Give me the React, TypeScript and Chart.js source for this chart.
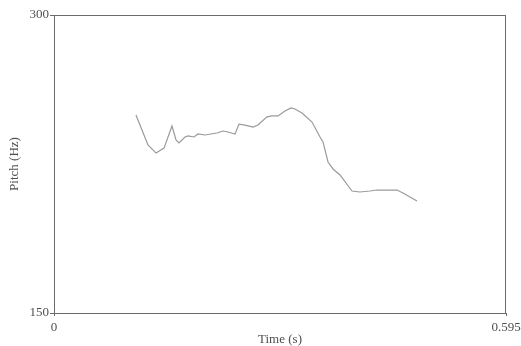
import React, { useEffect, useRef } from "react";
import { Chart, registerables } from "chart.js";

Chart.register(...registerables);

const timeS: number[] = [
  0.1079, 0.1237, 0.1343, 0.1448, 0.1553, 0.1606, 0.1645, 0.1724, 0.1764, 0.1843,
  0.1896, 0.1988, 0.2146, 0.2225, 0.229, 0.2383, 0.2435, 0.2514, 0.262, 0.2685,
  0.2804, 0.287, 0.2949, 0.3041, 0.312, 0.3172, 0.3265, 0.3396, 0.3502, 0.3541,
  0.3607, 0.3673, 0.3765, 0.3923, 0.4028, 0.416, 0.4252, 0.4383, 0.4515, 0.4594,
  0.4686, 0.4779,
];
const pitchHz: number[] = [
  249.7, 234.6, 230.5, 233.0, 244.1, 237.1, 235.6, 238.6, 239.1, 238.6,
  240.1, 239.6, 240.6, 241.6, 241.1, 240.1, 245.1, 244.6, 243.6, 244.6,
  248.7, 249.2, 249.2, 251.7, 253.2, 252.7, 250.7, 246.1, 238.6, 236.1,
  226.0, 222.5, 219.5, 211.4, 210.9, 211.4, 211.9, 211.9, 211.9, 210.4,
  208.4, 206.4,
];
const xTicks: number[] = [0, 0.595];
const yTicks: number[] = [150, 300];
const xTitle = "Time (s)";
const yTitle = "Pitch (Hz)";

const FONT = "'Liberation Serif', 'DejaVu Serif', serif";
const AXIS = "#6b6b6b";
const TEXT = "#505050";

const frame = {
  id: "frame",
  afterDatasetsDraw(chart: any) {
    const { ctx, chartArea } = chart;
    ctx.save();
    ctx.strokeStyle = AXIS;
    ctx.lineWidth = 1;
    ctx.beginPath();
    ctx.moveTo(chartArea.left, chartArea.top + 0.5);
    ctx.lineTo(chartArea.right, chartArea.top + 0.5);
    ctx.moveTo(chartArea.right - 0.5, chartArea.top);
    ctx.lineTo(chartArea.right - 0.5, chartArea.bottom);
    ctx.stroke();
    ctx.restore();
  },
};

export default function App() {
  const ref = useRef<HTMLCanvasElement | null>(null);
  useEffect(() => {
    document.body.style.margin = "0";
    const chart = new Chart(ref.current as HTMLCanvasElement, {
      type: "line",
      data: {
        datasets: [
          {
            data: timeS.map((t, i) => ({ x: t, y: pitchHz[i] })),
            borderColor: "#9a9a9a",
            borderWidth: 1.2,
            pointRadius: 0,
            tension: 0,
            fill: false,
          },
        ],
      },
      options: {
        responsive: false,
        animation: false,
        layout: { padding: { top: 15, right: 15, left: 0, bottom: 0 } },
        plugins: { legend: { display: false }, tooltip: { enabled: false } },
        scales: {
          x: {
            type: "linear",
            min: 0,
            max: 0.595,
            afterBuildTicks: (s: any) => {
              s.ticks = xTicks.map((v) => ({ value: v }));
            },
            afterFit: (s: any) => {
              s.height = 33;
              s.paddingLeft = 0;
              s.paddingRight = 0;
            },
            ticks: {
              autoSkip: false,
              maxRotation: 0,
              padding: 4,
              color: TEXT,
              font: { family: FONT, size: 13 },
              callback: (v: any) => String(v),
            },
            grid: { drawOnChartArea: false, tickLength: 3, color: AXIS },
            border: { color: AXIS, width: 1 },
            title: {
              display: true,
              text: xTitle,
              color: TEXT,
              font: { family: FONT, size: 13 },
              padding: { top: 0, bottom: -1 },
            },
          },
          y: {
            type: "linear",
            min: 150,
            max: 300,
            afterBuildTicks: (s: any) => {
              s.ticks = yTicks.map((v) => ({ value: v }));
            },
            afterFit: (s: any) => {
              s.width = 54;
              s.paddingTop = 0;
              s.paddingBottom = 0;
            },
            ticks: {
              padding: 1,
              color: TEXT,
              font: { family: FONT, size: 13 },
              callback: (v: any) => String(v),
            },
            grid: { drawOnChartArea: false, tickLength: 4, color: AXIS },
            border: { color: AXIS, width: 1 },
            title: {
              display: true,
              text: yTitle,
              color: TEXT,
              font: { family: FONT, size: 13 },
              padding: { top: 7, bottom: 0 },
            },
          },
        },
      },
      plugins: [frame],
    });
    return () => chart.destroy();
  }, []);
  return (
    <div style={{ position: "absolute", left: 0, top: 0, width: 521, height: 346, background: "#fff" }}>
      <canvas ref={ref} width={521} height={346} />
    </div>
  );
}
